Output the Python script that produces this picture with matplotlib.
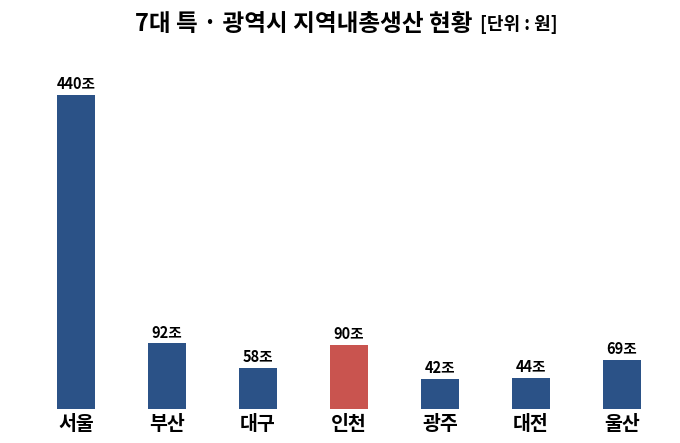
import numpy as np
import matplotlib
matplotlib.use("Agg")
import matplotlib.pyplot as plt

plt.rcParams['font.family'] = ['Noto Sans CJK KR', 'DejaVu Sans']

# Données (unité : 조 원)
villes = ["서울", "부산", "대구", "인천", "광주", "대전", "울산"]
valeurs = [440, 92, 58, 90, 42, 44, 69]
etiquettes = ["440조", "92조", "58조", "90조", "42조", "44조", "69조"]
couleurs = ["#2B5287", "#2B5287", "#2B5287", "#C9544F", "#2B5287", "#2B5287", "#2B5287"]

fig = plt.figure(figsize=(6.8, 4.43), dpi=100)
ax = fig.add_axes([0, 34 / 443, 1, 349 / 443])

x = np.arange(len(villes))
ax.bar(x, valeurs, width=0.41, color=couleurs)

for xi, v, lab in zip(x, valeurs, etiquettes):
    ax.annotate(lab, (xi, v), xytext=(0, 2), textcoords="offset points",
                ha="center", va="bottom", fontsize=10.5, fontweight="bold")

for xi, nom in zip(x, villes):
    ax.annotate(nom, (xi, 0), xytext=(0, -4), textcoords="offset points",
                ha="center", va="top", fontsize=14, fontweight="bold")

ax.set_xlim(-0.835, 6.637)
ax.set_ylim(0, 489)
ax.axis("off")

# Titre en deux morceaux
t1 = fig.text(0.198, 1 - 24 / 443, "7대 특 · 광역시 지역내총생산 현황", fontsize=17,
              fontweight="bold", ha="left", va="center")
fig.canvas.draw()
bb = t1.get_window_extent()
fig.text((bb.x1 + 8) / fig.bbox.width, 1 - 25 / 443, "[단위 : 원]", fontsize=13,
         fontweight="bold", ha="left", va="center")

plt.savefig("out.png", dpi=100)
plt.close()
